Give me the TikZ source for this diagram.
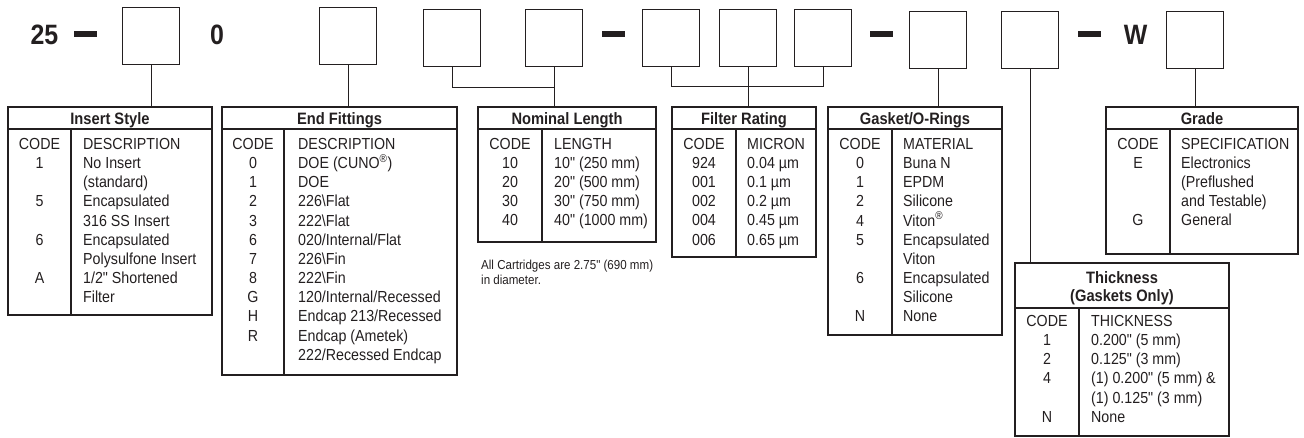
\documentclass[tikz,border=0pt]{standalone}
\usepackage{fontspec}
\setmainfont[FakeStretch=0.89]{Liberation Sans}
\newfontfamily\ff[FakeStretch=0.89]{Liberation Sans}
\definecolor{ink}{HTML}{231F20}
\newcommand\fs{\rule{0pt}{13pt}}
\newcommand\regm{\textsuperscript{®}}
\tikzset{
  tblframe/.style={draw=ink, line width=1.2pt, inner sep=0, fill=none},
  tbl/.style={draw=ink, line width=1.2pt},
  sel/.style={draw=ink, line width=1.2pt, minimum width=57pt, minimum height=57pt, inner sep=0, anchor=north west},
  conn/.style={draw=ink, line width=1pt},
  bar/.style={fill=ink, minimum width=23pt, minimum height=6pt, inner sep=0, draw=none},
  big/.style={font=\ff\fontsize{28}{28}\selectfont\bfseries, text=ink, inner sep=0, anchor=base},
  hd/.style={font=\ff\fontsize{16.5}{18}\selectfont\bfseries, text=ink, inner sep=0, anchor=north, align=center},
  codecol/.style={font=\ff\fontsize{16}{19.2}\selectfont, text=ink, inner sep=0, anchor=north, align=center},
  desccol/.style={font=\ff\fontsize{16}{19.2}\selectfont, text=ink, inner sep=0, anchor=north west, align=left},
  notetxt/.style={font=\ff\fontsize{13}{15}\selectfont, text=ink, inner sep=0, anchor=north west, align=left},
}
% name, left, right, top, headbottom, divider, bottom
\newcommand\tablebox[7]{%
  \node[tblframe, minimum width={#3-#2}, minimum height={#7-#4}] (#1) at ({(#2+#3)/2},{(#4+#7)/2}) {};
  \draw[tbl] (#2,#5) -- (#3,#5);
  \draw[tbl] (#6,#5) -- (#6,#7);
}
\begin{document}
\begin{tikzpicture}[x=1pt,y=-1pt]
\useasboundingbox (0,0) rectangle (1304,438);

% ---- top row ----
\node[big] (n25) at (44.5,45) {25};
\node[bar] (bar1) at (85.5,34) {};
\node[sel] (b1) at (122,7) {};
\node[big] (n0) at (217,45) {0};
\node[sel] (b2) at (319,7) {};
\node[sel] (b3) at (423,9) {};
\node[sel] (b4) at (525,9) {};
\node[bar] (bar2) at (613.5,34) {};
\node[sel] (b5) at (642,9) {};
\node[sel] (b6) at (719,9) {};
\node[sel] (b7) at (794,9) {};
\node[bar] (bar3) at (881.5,34) {};
\node[sel] (b8) at (909,11) {};
\node[sel] (b9) at (1001,11) {};
\node[bar] (bar4) at (1089,34) {};
\node[big] (nW) at (1135.5,45) {W};
\node[sel] (b10) at (1166,11) {};

% ---- tables ----
\tablebox{t1}{8}{212}{107}{129}{71}{315}
\tablebox{t2}{222}{457}{107}{129}{284}{375}
\tablebox{t3}{478}{656}{107}{129}{542}{242}
\tablebox{t4}{672}{816}{107}{129}{736}{257}
\tablebox{t5}{828}{1002}{107}{129}{892}{335}
\tablebox{t6}{1015}{1229}{263}{308}{1079}{436}
\tablebox{t7}{1106}{1298}{107}{129}{1170}{254}

% ---- connectors ----
\draw[conn] (b1.south) -- (b1.south |- t1.north);
\draw[conn] (b2.south) -- (b2.south |- t2.north);
\draw[conn] (b3.south) -- ++(0,20) -| (b4.south);
\draw[conn] (b4.south) -- (b4.south |- t3.north);
\draw[conn] (b5.south) -- ++(0,19) -| (b7.south);
\draw[conn] (b6.south) -- (b6.south |- t4.north);
\draw[conn] (b8.south) -- (b8.south |- t5.north);
\draw[conn] (b9.south) -- (b9.south |- t6.north);
\draw[conn] (b10.south) -- (b10.south |- t7.north);

% ---- headers ----
\node[hd] (h1) at (110,111) {\fs Insert Style};
\node[hd] (h2) at (339.5,111) {\fs End Fittings};
\node[hd] (h3) at (567,111) {\fs Nominal Length};
\node[hd] (h4) at (744,111) {\fs Filter Rating};
\node[hd] (h5) at (915,111) {\fs Gasket/O-Rings};
\node[hd] (h6) at (1122,270) {\fs Thickness\\(Gaskets Only)};
\node[hd] (h7) at (1202,111) {\fs Grade};

% ---- Insert Style ----
\node[codecol] (c1) at (39.5,136) {\fs CODE\\1\\\mbox{}\\5\\\mbox{}\\6\\\mbox{}\\A};
\node[desccol] (d1) at (83,136) {\fs DESCRIPTION\\No Insert\\(standard)\\Encapsulated\\316 SS Insert\\Encapsulated\\Polysulfone Insert\\1/2" Shortened\\Filter};

% ---- End Fittings ----
\node[codecol] (c2) at (253,136) {\fs CODE\\0\\1\\2\\3\\6\\7\\8\\G\\H\\R};
\node[desccol] (d2) at (298,136) {\fs DESCRIPTION\\DOE (CUNO\regm)\\DOE\\226\textbackslash Flat\\222\textbackslash Flat\\020/Internal/Flat\\226\textbackslash Fin\\222\textbackslash Fin\\120/Internal/Recessed\\Endcap 213/Recessed\\Endcap (Ametek)\\222/Recessed Endcap};

% ---- Nominal Length ----
\node[codecol] (c3) at (510,136) {\fs CODE\\10\\20\\30\\40};
\node[desccol] (d3) at (554,136) {\fs LENGTH\\10" (250 mm)\\20" (500 mm)\\30" (750 mm)\\40" (1000 mm)};
\node[notetxt] (n3) at (481,259) {\rule{0pt}{10pt}All Cartridges are 2.75" (690 mm)\\in diameter.};

% ---- Filter Rating ----
\node[codecol] (c4) at (704,136) {\fs CODE\\924\\001\\002\\004\\006};
\node[desccol] (d4) at (747,136) {\fs MICRON\\0.04 µm\\0.1 µm\\0.2 µm\\0.45 µm\\0.65 µm};

% ---- Gasket/O-Rings ----
\node[codecol] (c5) at (860,136) {\fs CODE\\0\\1\\2\\4\\5\\\mbox{}\\6\\\mbox{}\\N};
\node[desccol] (d5) at (903,136) {\fs MATERIAL\\Buna N\\EPDM\\Silicone\\Viton\regm\\Encapsulated\\Viton\\Encapsulated\\Silicone\\None};

% ---- Thickness ----
\node[codecol] (c6) at (1047,313) {\fs CODE\\1\\2\\4\\\mbox{}\\N};
\node[desccol] (d6) at (1091,313) {\fs THICKNESS\\0.200" (5 mm)\\0.125" (3 mm)\\(1) 0.200" (5 mm) \&\\(1) 0.125" (3 mm)\\None};

% ---- Grade ----
\node[codecol] (c7) at (1138,136) {\fs CODE\\E\\\mbox{}\\\mbox{}\\G};
\node[desccol] (d7) at (1181,136) {\fs SPECIFICATION\\Electronics\\(Preflushed\\and Testable)\\General};
\end{tikzpicture}
\end{document}
